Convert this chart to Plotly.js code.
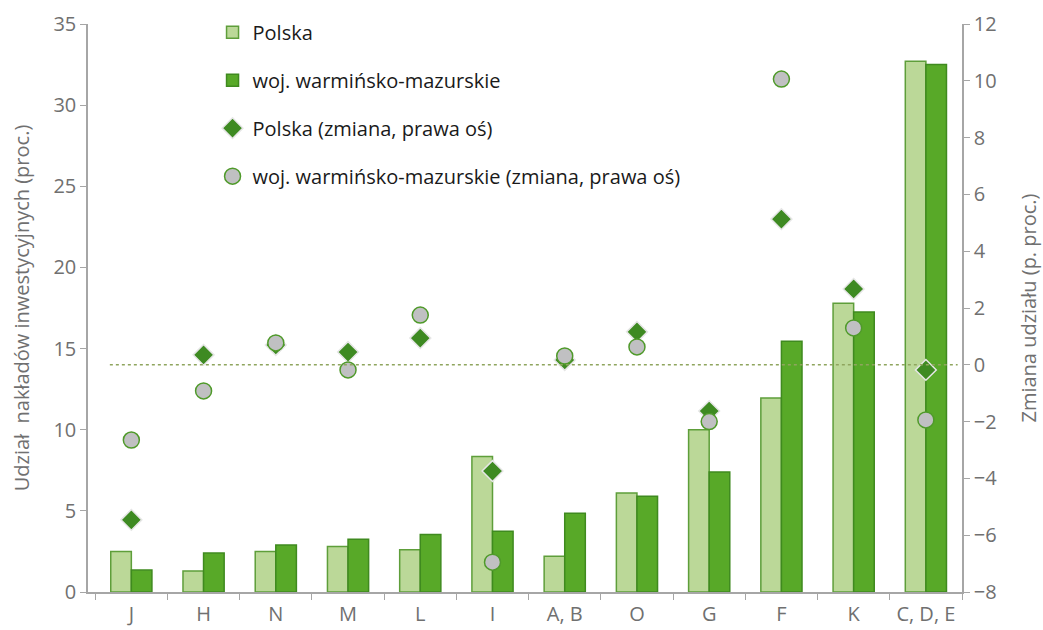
<!DOCTYPE html>
<html>
<head>
<meta charset="utf-8">
<script src="https://cdn.plot.ly/plotly-3.0.1.min.js"></script>
<style>body{margin:0;background:#fff}</style>
</head>
<body>
<div id="myChart" style="width:1043px;height:630px"></div>
<script>
var categories = ['J', 'H', 'N', 'M', 'L', 'I', 'A, B', 'O', 'G', 'F', 'K', 'C, D, E'];
var polskaShare = [2.5, 1.3, 2.5, 2.8, 2.6, 8.35, 2.2, 6.1, 10.0, 11.95, 17.8, 32.7];
var regionShare = [1.35, 2.4, 2.9, 3.25, 3.55, 3.75, 4.85, 5.9, 7.4, 15.45, 17.25, 32.5];
var polskaChange = [-5.46, 0.35, 0.7, 0.45, 0.94, -3.74, 0.17, 1.16, -1.63, 5.13, 2.67, -0.18];
var regionChange = [-2.65, -0.92, 0.77, -0.18, 1.75, -6.95, 0.31, 0.63, -2.0, 10.06, 1.3, -1.94];

var axisGrey = '#a6a6a6';
var tickFont = {family: 'Open Sans, sans-serif', size: 20, color: '#707070'};

var trace1 = {
    x: categories,
    y: polskaShare,
    type: 'bar',
    name: 'Polska',
    legendgroup: 'a',
    marker: {color: '#bbd898', line: {color: '#5e9e3a', width: 1.5}}
};

var trace2 = {
    x: categories,
    y: regionShare,
    type: 'bar',
    name: 'woj. warmińsko-mazurskie',
    legendgroup: 'b',
    marker: {color: '#58a928', line: {color: '#3f8a1f', width: 1.5}}
};

var trace3 = {
    x: categories,
    y: polskaChange,
    yaxis: 'y2',
    type: 'scatter',
    mode: 'markers',
    name: 'Polska (zmiana, prawa oś)',
    legendgroup: 'c',
    marker: {symbol: 'diamond', size: 16, color: '#3e8a22', line: {color: '#e6e6e6', width: 1.5}}
};

var trace4 = {
    x: categories,
    y: regionChange,
    yaxis: 'y2',
    type: 'scatter',
    mode: 'markers',
    name: 'woj. warmińsko-mazurskie (zmiana, prawa oś)',
    legendgroup: 'd',
    marker: {symbol: 'circle', size: 16, color: '#c0c0c2', line: {color: '#4f9a2a', width: 1.5}}
};

var layout = {
    width: 1043,
    height: 630,
    margin: {l: 88, r: 81, t: 24, b: 38, pad: 0},
    paper_bgcolor: '#fff',
    plot_bgcolor: '#fff',
    font: {family: 'Open Sans, sans-serif', color: '#222'},
    barmode: 'group',
    bargap: 0.43,
    bargroupgap: 0,
    showlegend: true,
    legend: {
        x: 0.1425, y: 1.02, xanchor: 'left', yanchor: 'top',
        bgcolor: 'rgba(0,0,0,0)',
        font: {size: 20, color: '#1a1a1a'},
        tracegroupgap: 19,
        itemwidth: 30
    },
    xaxis: {
        range: [-0.6, 11.5],
        showline: true, linecolor: axisGrey, linewidth: 1.5,
        ticks: 'outside', tickson: 'boundaries', ticklen: 6, tickcolor: axisGrey,
        ticklabelstandoff: 3,
        tickfont: tickFont, showgrid: false, zeroline: false
    },
    yaxis: {
        range: [0, 35], dtick: 5,
        showline: true, linecolor: axisGrey, linewidth: 1.5,
        ticks: 'outside', ticklen: 6, tickcolor: axisGrey,
        tickfont: tickFont, showgrid: false, zeroline: false,
        title: {text: 'Udział  nakładów inwestycyjnych (proc.)', font: {size: 20, color: '#707070'}, standoff: 18}
    },
    yaxis2: {
        overlaying: 'y', side: 'right',
        range: [-8, 12], dtick: 2,
        showline: true, linecolor: axisGrey, linewidth: 1.5,
        ticks: 'outside', ticklen: 6, tickcolor: axisGrey,
        tickfont: tickFont, showgrid: false, zeroline: false,
        title: {text: 'Zmiana udziału (p. proc.)', font: {size: 20, color: '#707070'}, standoff: 26}
    },
    shapes: [{
        type: 'line', xref: 'paper', yref: 'y2',
        x0: 0.025, x1: 0.995, y0: 0, y1: 0,
        line: {color: '#8fa55e', width: 1.5, dash: 'dot'}
    }]
};

var config = {displayModeBar: false, responsive: false};

Plotly.newPlot('myChart', [trace1, trace2, trace3, trace4], layout, config);
</script>
</body>
</html>
